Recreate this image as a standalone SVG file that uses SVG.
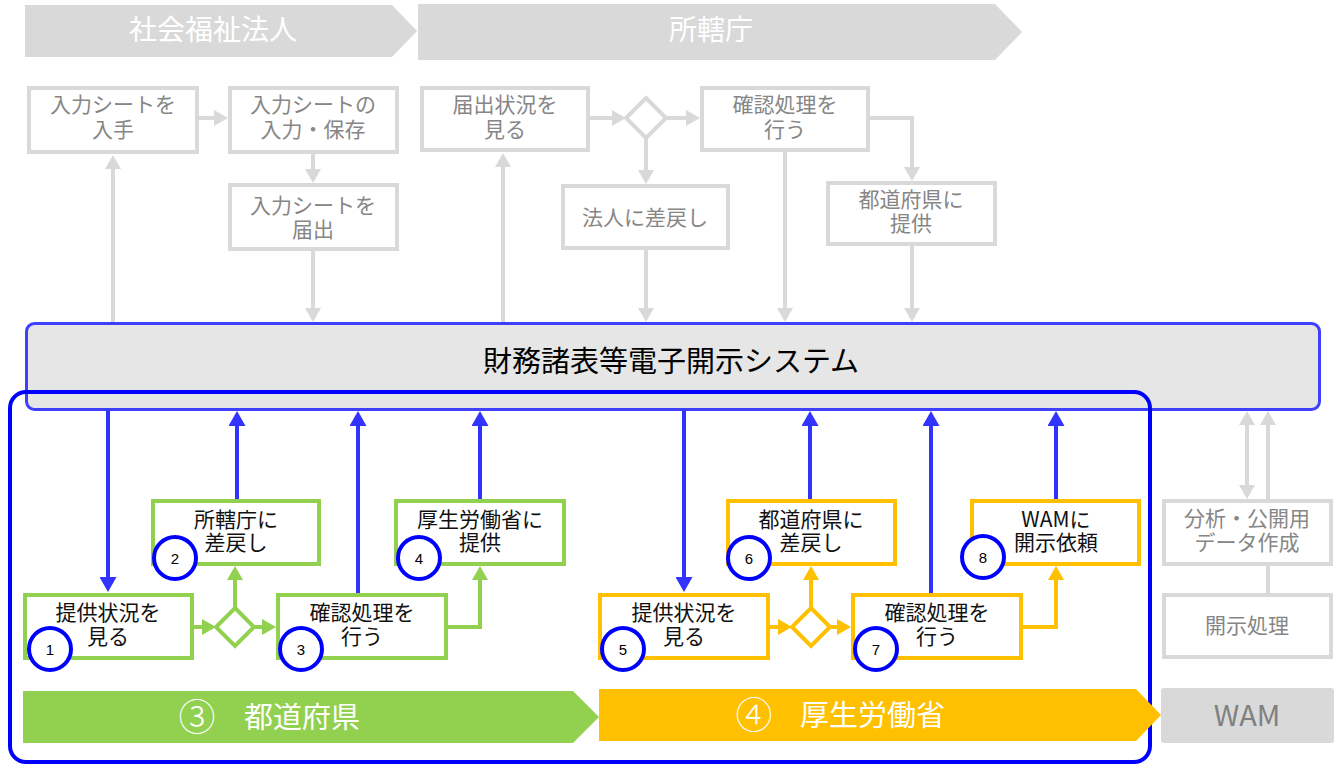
<svg xmlns="http://www.w3.org/2000/svg" width="1343" height="764" viewBox="0 0 1343 764">
<style>
text{font-family:"Noto Sans CJK JP","Noto Sans",sans-serif;text-anchor:middle}
.gb{fill:#fff;stroke:#d9d9d9;stroke-width:4}
.grn{fill:#fff;stroke:#92d050;stroke-width:4}
.org{fill:#fff;stroke:#ffc000;stroke-width:4}
.gt{font-size:21px;fill:#868686}
.bt{font-size:21px;fill:#111}
.hd{font-size:28px;fill:#fff}
.bn{font-size:29px;fill:#fff}
.cd{font-family:"Noto Sans CJK JP",sans-serif;font-weight:300;font-size:37px;fill:#fff}
.num circle{fill:#fff;stroke:#0000ff;stroke-width:4}
.num text{font-family:"Liberation Sans",Arial,sans-serif;font-size:15px;fill:#000}
.cg{fill:none;stroke:#d9d9d9;stroke-width:4}
.cb{fill:none;stroke:#3333ff;stroke-width:4}
.cgr{fill:none;stroke:#92d050;stroke-width:4}
.co{fill:none;stroke:#ffc000;stroke-width:4}
</style>
<defs>
<marker id="ag" markerWidth="14" markerHeight="16" refX="0" refY="8" orient="auto-start-reverse" markerUnits="userSpaceOnUse"><path d="M0,0 L14,8 L0,16 z" fill="#d9d9d9"/></marker>
<marker id="ab" markerWidth="15" markerHeight="17" refX="0" refY="8.5" orient="auto" markerUnits="userSpaceOnUse"><path d="M0,0 L15,8.5 L0,17 z" fill="#3333ff"/></marker>
<marker id="agr" markerWidth="14" markerHeight="16" refX="0" refY="8" orient="auto" markerUnits="userSpaceOnUse"><path d="M0,0 L14,8 L0,16 z" fill="#92d050"/></marker>
<marker id="ao" markerWidth="14" markerHeight="16" refX="0" refY="8" orient="auto" markerUnits="userSpaceOnUse"><path d="M0,0 L14,8 L0,16 z" fill="#ffc000"/></marker>
</defs>
<rect width="1343" height="764" fill="#fff"/>

<g id="lane-hojin">
<polygon points="25,5 392,5 417,31 392,57 25,57" fill="#d9d9d9"/>
<text class="hd" x="213" y="39.5">社会福祉法人</text>
</g>
<g id="lane-shokancho">
<polygon points="418,4 995,4 1022,32 995,60 418,60" fill="#d9d9d9"/>
<text class="hd" x="711" y="40">所轄庁</text>
</g>

<g id="connectors">
<path class="cg" d="M199,118 H214" marker-end="url(#ag)"/>
<path class="cg" d="M313,154 V169" marker-end="url(#ag)"/>
<path class="cg" d="M313,251 V308" marker-end="url(#ag)"/>
<path class="cg" d="M113,322 V169" marker-end="url(#ag)"/>
<path class="cg" d="M503,322 V167" marker-end="url(#ag)"/>
<path class="cg" d="M590,118 H612" marker-end="url(#ag)"/>
<path class="cg" d="M666,118 H686" marker-end="url(#ag)"/>
<path class="cg" d="M646,138 V170" marker-end="url(#ag)"/>
<path class="cg" d="M646,250 V308" marker-end="url(#ag)"/>
<path class="cg" d="M785,152 V308" marker-end="url(#ag)"/>
<path class="cg" d="M870,118 H912 V167" marker-end="url(#ag)"/>
<path class="cg" d="M912,246 V308" marker-end="url(#ag)"/>
<path class="cg" d="M1247,425 V485" marker-start="url(#ag)" marker-end="url(#ag)"/>
<path class="cg" d="M1268,500 V425" marker-end="url(#ag)"/>
<path class="cg" d="M1268,566 V594"/>

<path class="cb" d="M108,411 V577" marker-end="url(#ab)"/>
<path class="cb" d="M237,499 V426" marker-end="url(#ab)"/>
<path class="cb" d="M358,593 V426" marker-end="url(#ab)"/>
<path class="cb" d="M480,499 V426" marker-end="url(#ab)"/>
<path class="cb" d="M684,411 V577" marker-end="url(#ab)"/>
<path class="cb" d="M810,499 V426" marker-end="url(#ab)"/>
<path class="cb" d="M931,593 V426" marker-end="url(#ab)"/>
<path class="cb" d="M1056,499 V426" marker-end="url(#ab)"/>

<path class="cgr" d="M194,627 H202" marker-end="url(#agr)"/>
<path class="cgr" d="M254,627 H262" marker-end="url(#agr)"/>
<path class="cgr" d="M235,608 V580" marker-end="url(#agr)"/>
<path class="cgr" d="M448,627 H480 V580" marker-end="url(#agr)"/>

<path class="co" d="M770,627 H778" marker-end="url(#ao)"/>
<path class="co" d="M830,627 H837" marker-end="url(#ao)"/>
<path class="co" d="M811,608 V580" marker-end="url(#ao)"/>
<path class="co" d="M1023,627 H1056 V580" marker-end="url(#ao)"/>
</g>

<g id="n-nyushu"><rect class="gb" x="29" y="88" width="168" height="64"/>
<text class="gt" x="113" y="112">入力シートを</text><text class="gt" x="113" y="137">入手</text></g>
<g id="n-hozon"><rect class="gb" x="230" y="88" width="167" height="64"/>
<text class="gt" x="313" y="112">入力シートの</text><text class="gt" x="313" y="137">入力・保存</text></g>
<g id="n-todokede"><rect class="gb" x="230" y="185" width="167" height="64"/>
<text class="gt" x="313" y="213">入力シートを</text><text class="gt" x="313" y="237">届出</text></g>
<g id="n-todokede-jokyo"><rect class="gb" x="422" y="88" width="166" height="62"/>
<text class="gt" x="505" y="112">届出状況を</text><text class="gt" x="505" y="137">見る</text></g>
<g id="d-shokan"><polygon class="gb" points="646,98 666,118 646,138 626,118"/></g>
<g id="n-kakunin-s"><rect class="gb" x="702" y="88" width="166" height="62"/>
<text class="gt" x="785" y="112">確認処理を</text><text class="gt" x="785" y="137">行う</text></g>
<g id="n-sashimodoshi-s"><rect class="gb" x="563" y="186" width="165" height="62"/>
<text class="gt" x="645" y="225">法人に差戻し</text></g>
<g id="n-teikyo-s"><rect class="gb" x="828" y="183" width="167" height="61"/>
<text class="gt" x="911" y="207">都道府県に</text><text class="gt" x="911" y="231">提供</text></g>

<g id="n-system">
<rect x="26.5" y="323.5" width="1293" height="86" rx="8" fill="#e6e6e6" stroke="#3f3fff" stroke-width="3"/>
<text x="671" y="372" font-size="29" fill="#000">財務諸表等電子開示システム</text>
</g>

<g id="frame"><rect x="10" y="392" width="1140" height="370" rx="16" fill="none" stroke="#0000ff" stroke-width="4"/></g>

<g id="n1"><rect class="grn" x="25" y="595" width="167" height="63"/>
<text class="bt" x="108" y="620">提供状況を</text><text class="bt" x="108" y="644">見る</text>
<g class="num"><circle cx="50" cy="649" r="21"/><text x="50" y="654.5">1</text></g></g>
<g id="n2"><rect class="grn" x="153" y="501" width="166" height="63"/>
<text class="bt" x="236" y="527">所轄庁に</text><text class="bt" x="236" y="550">差戻し</text>
<g class="num"><circle cx="175" cy="558" r="21"/><text x="175" y="563.5">2</text></g></g>
<g id="d-pref"><polygon class="grn" points="235,608 254,627 235,646 216,627"/></g>
<g id="n3"><rect class="grn" x="278" y="595" width="168" height="63"/>
<text class="bt" x="362" y="620">確認処理を</text><text class="bt" x="362" y="644">行う</text>
<g class="num"><circle cx="301" cy="649" r="21"/><text x="301" y="654.5">3</text></g></g>
<g id="n4"><rect class="grn" x="396" y="501" width="168" height="63"/>
<text class="bt" x="480" y="527">厚生労働省に</text><text class="bt" x="480" y="550">提供</text>
<g class="num"><circle cx="419" cy="558" r="21"/><text x="419" y="563.5">4</text></g></g>

<g id="n5"><rect class="org" x="600" y="595" width="168" height="63"/>
<text class="bt" x="684" y="620">提供状況を</text><text class="bt" x="684" y="644">見る</text>
<g class="num"><circle cx="623" cy="649" r="21"/><text x="623" y="654.5">5</text></g></g>
<g id="n6"><rect class="org" x="728" y="501" width="167" height="63"/>
<text class="bt" x="811" y="527">都道府県に</text><text class="bt" x="811" y="550">差戻し</text>
<g class="num"><circle cx="749" cy="558" r="21"/><text x="749" y="563.5">6</text></g></g>
<g id="d-mhlw"><polygon class="org" points="811,608 830,627 811,646 792,627"/></g>
<g id="n7"><rect class="org" x="853" y="595" width="168" height="63"/>
<text class="bt" x="937" y="620">確認処理を</text><text class="bt" x="937" y="644">行う</text>
<g class="num"><circle cx="876" cy="649" r="21"/><text x="876" y="654.5">7</text></g></g>
<g id="n8"><rect class="org" x="972" y="501" width="167" height="63"/>
<text class="bt" x="1056" y="527">WAMに</text><text class="bt" x="1056" y="550">開示依頼</text>
<g class="num"><circle cx="983" cy="557" r="21"/><text x="983" y="562.5">8</text></g></g>

<g id="n-bunseki"><rect class="gb" x="1164" y="501" width="167" height="63"/>
<text class="gt" x="1247" y="526">分析・公開用</text><text class="gt" x="1247" y="550">データ作成</text></g>
<g id="n-kaiji"><rect class="gb" x="1164" y="595" width="167" height="62"/>
<text class="gt" x="1247" y="633">開示処理</text></g>

<g id="lane-pref">
<polygon points="23,691 573,691 599,717 573,743 23,743" fill="#92d050"/>
<text class="cd" x="197" y="731">③</text>
<text class="bn" x="244" y="728" style="text-anchor:start">都道府県</text>
</g>
<g id="lane-mhlw">
<polygon points="599,689 1136,689 1161,715 1136,741 599,741" fill="#ffc000"/>
<text class="cd" x="754" y="729">④</text>
<text class="bn" x="800" y="726" style="text-anchor:start">厚生労働省</text>
</g>
<g id="lane-wam">
<rect x="1161" y="688" width="173" height="55" rx="3" fill="#d9d9d9"/>
<text x="1247" y="726" font-family="Liberation Sans, Arial, sans-serif" font-size="29" fill="#808080">WAM</text>
</g>
</svg>
